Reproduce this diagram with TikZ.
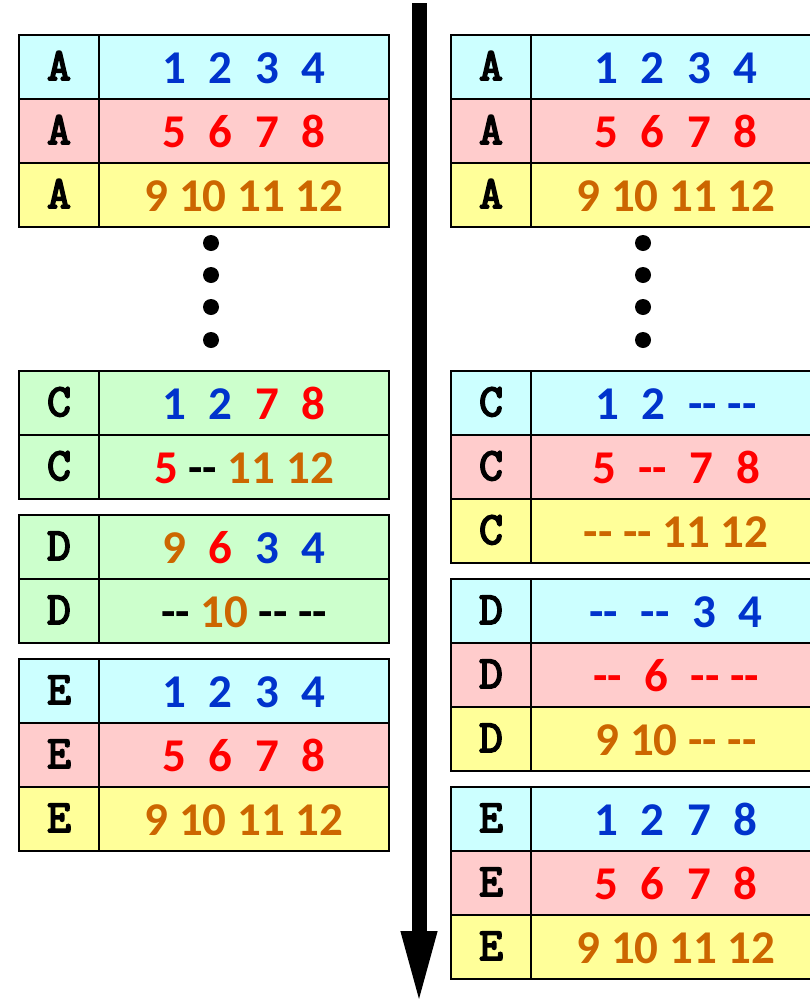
\documentclass[tikz,border=0pt]{standalone}
\usepackage{fontspec}
\usetikzlibrary{arrows.meta}
\newfontfamily\numfont{Carlito}
\newfontfamily\labfont{Latin Modern Mono}[FakeBold=4]
\definecolor{cy}{HTML}{CCFFFF}
\definecolor{pk}{HTML}{FFCCCC}
\definecolor{yl}{HTML}{FFFF99}
\definecolor{gr}{HTML}{CCFFCC}
\definecolor{tb}{HTML}{0033CC}
\definecolor{tr}{HTML}{FF0000}
\definecolor{to}{HTML}{CC6600}
\newcommand\Bl[1]{\textcolor{tb}{#1}}
\newcommand\Rd[1]{\textcolor{tr}{#1}}
\newcommand\Or[1]{\textcolor{to}{#1}}
\newcommand\wg{\hspace{0.48em}}
\newcommand\dd{-{}-}
\tikzset{
  x=1pt, y=1pt,
  cell/.style={draw, line width=2pt, minimum height=64pt, inner sep=0pt, outer sep=0pt, anchor=north west},
  lab/.style={cell, minimum width=80pt, font={\labfont\fontsize{46}{52}\selectfont}, text height=26pt, text depth=0pt},
  val/.style={cell, minimum width=290pt, font={\numfont\bfseries\fontsize{47}{56}\selectfont}, text height=33pt, text depth=0pt},
  dot/.style={fill=black},
}
\newcommand\crow[6]{%
  \node[lab, fill=#4] (#1l) at (#2,-#3) {#5};
  \node[val, fill=#4] (#1v) at (#1l.north east) {#6};
}
\begin{document}
\begin{tikzpicture}
\useasboundingbox (0,0) rectangle (810,-1007);
% left column
\crow{LA1}{19}{35}{cy}{A}{\Bl{1\wg2\wg3\wg4}}
\crow{LA2}{19}{99}{pk}{A}{\Rd{5\wg6\wg7\wg8}}
\crow{LA3}{19}{163}{yl}{A}{\Or{9 10 11 12}}
\crow{LC1}{19}{371}{gr}{C}{\Bl{1\wg2}\wg\Rd{7\wg8}}
\crow{LC2}{19}{435}{gr}{C}{\Rd{5} \dd{} \Or{11 12}}
\crow{LD1}{19}{515}{gr}{D}{\Or{9}\wg\Rd{6}\wg\Bl{3\wg4}}
\crow{LD2}{19}{579}{gr}{D}{\dd{} \Or{10} \dd{} \dd}
\crow{LE1}{19}{659}{cy}{E}{\Bl{1\wg2\wg3\wg4}}
\crow{LE2}{19}{723}{pk}{E}{\Rd{5\wg6\wg7\wg8}}
\crow{LE3}{19}{787}{yl}{E}{\Or{9 10 11 12}}
% right column
\crow{RA1}{451}{35}{cy}{A}{\Bl{1\wg2\wg3\wg4}}
\crow{RA2}{451}{99}{pk}{A}{\Rd{5\wg6\wg7\wg8}}
\crow{RA3}{451}{163}{yl}{A}{\Or{9 10 11 12}}
\crow{RC1}{451}{371}{cy}{C}{\Bl{1\wg2\wg\dd{} \dd}}
\crow{RC2}{451}{435}{pk}{C}{\Rd{5\wg\dd\wg7\wg8}}
\crow{RC3}{451}{499}{yl}{C}{\Or{\dd{} \dd{} 11 12}}
\crow{RD1}{451}{579}{cy}{D}{\Bl{\dd\wg\dd\wg3\wg4}}
\crow{RD2}{451}{643}{pk}{D}{\Rd{\dd\wg6\wg\dd{} \dd}}
\crow{RD3}{451}{707}{yl}{D}{\Or{9 10 \dd{} \dd}}
\crow{RE1}{451}{787}{cy}{E}{\Bl{1\wg2\wg7\wg8}}
\crow{RE2}{451}{851}{pk}{E}{\Rd{5\wg6\wg7\wg8}}
\crow{RE3}{451}{915}{yl}{E}{\Or{9 10 11 12}}
% dots
\foreach \yy in {243,275,307,340} {
  \fill[dot] (211,-\yy) circle (8);
  \fill[dot] (643,-\yy) circle (8);
}
% arrow
\coordinate (arrtop) at (419,-3);
\coordinate (arrbot) at (419,-1007);
\draw[line width=15pt, -{Triangle[width=32pt,length=76pt]}] (arrtop) -- (arrbot);
\end{tikzpicture}
\end{document}
